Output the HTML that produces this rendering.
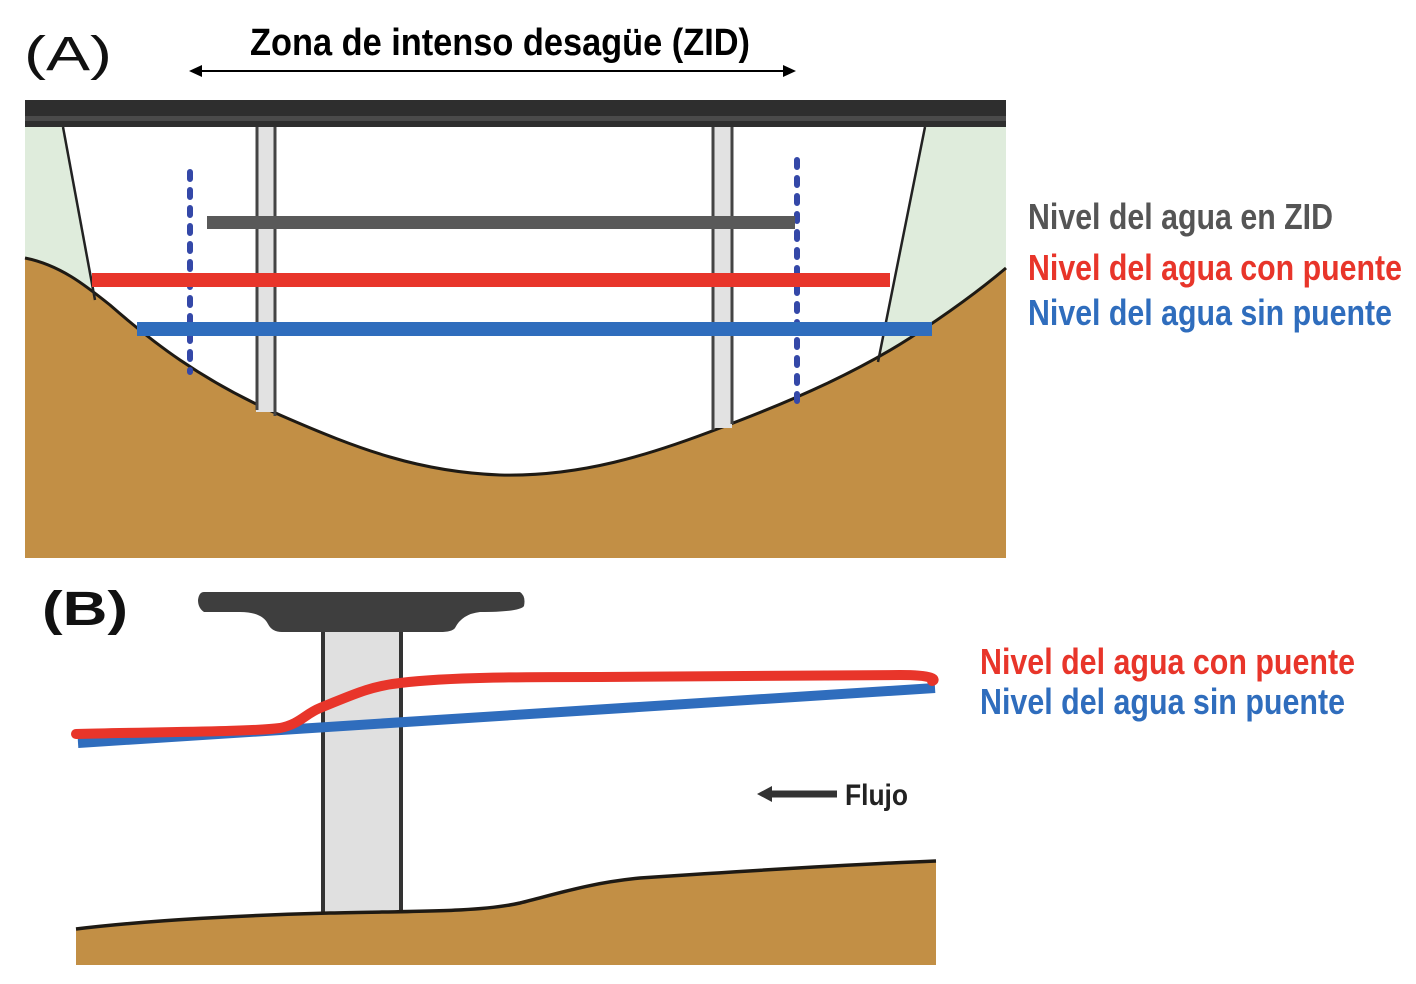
<!DOCTYPE html>
<html><head><meta charset="utf-8"><style>
html,body{margin:0;padding:0;background:#fff;}
svg{display:block}
text{font-family:"Liberation Sans Narrow","Liberation Sans",sans-serif;font-weight:bold;}
</style></head><body>
<svg width="1416" height="984" viewBox="0 0 1416 984" xmlns="http://www.w3.org/2000/svg">
<!-- Panel A -->
<rect x="25" y="100" width="981" height="458" fill="#dfecdc"/>
<polygon points="63,127 925,127 878,362 870,520 100,520 95,300" fill="#fff"/>
<!-- ground -->
<path d="M25,258 C60,265 85,285 110,305 C150,340 200,380 280,415 C360,450 420,472 500,475 C580,477 650,455 720,428 C800,398 860,370 910,338 C950,312 980,290 1006,268 L1006,558 L25,558 Z" fill="#c28f45"/>
<path d="M25,258 C60,265 85,285 110,305 C150,340 200,380 280,415 C360,450 420,472 500,475 C580,477 650,455 720,428 C800,398 860,370 910,338 C950,312 980,290 1006,268" fill="none" stroke="#1e1a14" stroke-width="3"/>
<line x1="63" y1="127" x2="95" y2="300" stroke="#222" stroke-width="2.5"/>
<line x1="925" y1="127" x2="878" y2="362" stroke="#222" stroke-width="2.5"/>
<rect x="256" y="125" width="19" height="287" fill="#e2e2e2"/>
<line x1="257" y1="125" x2="257" y2="410" stroke="#444" stroke-width="3"/>
<line x1="275" y1="125" x2="275" y2="416" stroke="#444" stroke-width="3"/>
<rect x="712" y="125" width="20" height="303" fill="#e2e2e2"/>
<line x1="713" y1="125" x2="713" y2="430" stroke="#444" stroke-width="3"/>
<line x1="732" y1="125" x2="732" y2="424" stroke="#444" stroke-width="3"/>
<rect x="25" y="100" width="981" height="27" fill="#2e2e2e"/>
<rect x="25" y="116" width="981" height="5" fill="#4a4a4a"/>
<line x1="190" y1="172" x2="190" y2="372" stroke="#3448a8" stroke-width="6" stroke-dasharray="7,11" stroke-linecap="round"/>
<line x1="797" y1="160" x2="797" y2="402" stroke="#3448a8" stroke-width="6" stroke-dasharray="7,11" stroke-linecap="round"/>
<rect x="207" y="216" width="588" height="13" fill="#595959"/>
<rect x="92" y="273" width="798" height="14" fill="#e8352a"/>
<rect x="137" y="322" width="795" height="14" fill="#2f6dbd"/>
<text x="250" y="55" font-size="38" fill="#000" textLength="500" lengthAdjust="spacingAndGlyphs">Zona de intenso desagüe (ZID)</text>
<line x1="198" y1="71" x2="787" y2="71" stroke="#000" stroke-width="2"/>
<polygon points="189,71 202,65 202,77" fill="#000"/>
<polygon points="796,71 783,65 783,77" fill="#000"/>
<text x="24" y="70" font-size="48" fill="#111" style="font-family:'Liberation Sans',sans-serif;font-weight:normal" textLength="88" lengthAdjust="spacingAndGlyphs">(A)</text>
<text x="1028" y="229" font-size="36" fill="#555" textLength="305" lengthAdjust="spacingAndGlyphs">Nivel del agua en ZID</text>
<text x="1028" y="280" font-size="36" fill="#e8352a" textLength="374" lengthAdjust="spacingAndGlyphs">Nivel del agua con puente</text>
<text x="1028" y="325" font-size="36" fill="#2f6dbd" textLength="364" lengthAdjust="spacingAndGlyphs">Nivel del agua sin puente</text>

<!-- Panel B -->
<text x="42" y="625" font-size="48" fill="#111" textLength="86" lengthAdjust="spacingAndGlyphs">(B)</text>
<path d="M204,592 L520,592 Q526,596 524,606 Q520,612 480,612 Q462,614 455,628 Q452,632 440,632 L282,632 Q272,632 268,624 Q262,612 240,612 L204,612 Q198,608 198,600 Q199,592 204,592 Z" fill="#3e3e3e"/>
<rect x="322" y="632" width="80" height="282" fill="#e0e0e0"/>
<line x1="323" y1="632" x2="323" y2="914" stroke="#333" stroke-width="4"/>
<line x1="401" y1="632" x2="401" y2="914" stroke="#333" stroke-width="4"/>
<path d="M76,929 C150,920 250,915 330,913 C420,911 480,912 520,903 C560,893 590,883 640,878 C760,870 860,864 936,861 L936,965 L76,965 Z" fill="#c28f45"/>
<path d="M76,929 C150,920 250,915 330,913 C420,911 480,912 520,903 C560,893 590,883 640,878 C760,870 860,864 936,861" fill="none" stroke="#1e1a14" stroke-width="3.5"/>
<line x1="78" y1="743" x2="935" y2="688" stroke="#2f6dbd" stroke-width="10"/>
<path d="M76,734 C150,732 250,732 280,728 C300,724 305,714 320,708 C350,696 370,686 400,683 C450,677 520,677 600,677 C700,677 800,676 900,675 C935,675 936,680 932,681" fill="none" stroke="#e8352a" stroke-width="10" stroke-linecap="round"/>
<text x="980" y="674" font-size="36" fill="#e8352a" textLength="375" lengthAdjust="spacingAndGlyphs">Nivel del agua con puente</text>
<text x="980" y="714" font-size="36" fill="#2f6dbd" textLength="365" lengthAdjust="spacingAndGlyphs">Nivel del agua sin puente</text>
<line x1="770" y1="794" x2="837" y2="794" stroke="#333" stroke-width="7"/>
<polygon points="757,794 772,786 772,802" fill="#333"/>
<text x="845" y="805" font-size="30" fill="#222" textLength="63" lengthAdjust="spacingAndGlyphs">Flujo</text>
</svg>
</body></html>
